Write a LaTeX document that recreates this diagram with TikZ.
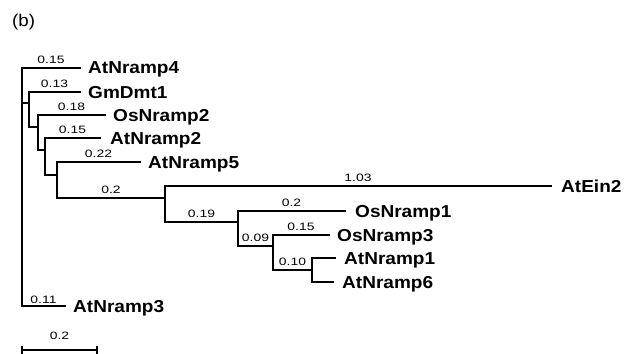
\documentclass[tikz,border=0pt]{standalone}
\usepackage{fontspec}
\setmainfont{Liberation Sans}
\newfontfamily\namefont{Liberation Sans}[FakeStretch=1.1]
\newfontfamily\numfont{Liberation Sans}[FakeStretch=1.3]
\begin{document}
\begin{tikzpicture}[x=1pt,y=-1pt,
  br/.style={line width=2.7pt,line cap=rect},
  thinbr/.style={line width=1.9pt,line cap=rect},
  leaf/.style={anchor=base west,inner sep=0pt,yshift=-6pt,font=\namefont\fontsize{17.3}{20}\selectfont\bfseries},
  blen/.style={anchor=south,inner sep=0pt,yshift=3.5pt,font=\numfont\fontsize{10.7}{12}\selectfont}]
\useasboundingbox (0,0) rectangle (631,353);
\node[anchor=base west,inner sep=0pt,font=\namefont\fontsize{17}{20}\selectfont] (title) at (12,27) {(b)};
% internal nodes (junction points)
\coordinate (root) at (22,103);
\coordinate (n1) at (29,103);
\coordinate (n2) at (38,127);
\coordinate (n3) at (45,150);
\coordinate (n4) at (57,175);
\coordinate (n5) at (165,198);
\coordinate (n6) at (238,222);
\coordinate (n7) at (273,246);
\coordinate (n8) at (312,270);
% leaf tips
\coordinate (t4) at (80,68);
\coordinate (tgm) at (80,92);
\coordinate (to2) at (105,115);
\coordinate (t2) at (100,138);
\coordinate (t5) at (140,162);
\coordinate (tein) at (551,186);
\coordinate (to1) at (345,211);
\coordinate (to3) at (329,235);
\coordinate (t1) at (335,258);
\coordinate (t6) at (333,282);
\coordinate (t3) at (65,306);
% leaf labels
\node[leaf,xshift=8pt] (l4) at (t4) {AtNramp4};
\node[leaf,xshift=8pt] (lgm) at (tgm) {GmDmt1};
\node[leaf,xshift=8pt] (lo2) at (to2) {OsNramp2};
\node[leaf,xshift=10pt] (l2) at (t2) {AtNramp2};
\node[leaf,xshift=8pt] (l5) at (t5) {AtNramp5};
\node[leaf,xshift=10pt] (lein) at (tein) {AtEin2};
\node[leaf,xshift=10pt] (lo1) at (to1) {OsNramp1};
\node[leaf,xshift=8pt] (lo3) at (to3) {OsNramp3};
\node[leaf,xshift=9pt] (l1) at (t1) {AtNramp1};
\node[leaf,xshift=9pt] (l6) at (t6) {AtNramp6};
\node[leaf,xshift=8pt] (l3) at (t3) {AtNramp3};
% branches
\draw[br] (root) |- (t4) node[blen,pos=0.75] {0.15};
\draw[br] (root) -- (n1);
\draw[br] (root) -- (root |- t3);
\draw[thinbr] (root |- t3) -- (t3) node[blen,midway,yshift=-2.5pt] {0.11};
\draw[br] (n1) |- (tgm) node[blen,pos=0.75] {0.13};
\draw[br] (n1) |- (n2);
\draw[br] (n2) |- (to2) node[blen,pos=0.75] {0.18};
\draw[br] (n2) |- (n3);
\draw[br] (n3) |- (t2) node[blen,pos=0.75] {0.15};
\draw[br] (n3) |- (n4);
\draw[br] (n4) |- (t5) node[blen,pos=0.75] {0.22};
\draw[br] (n4) |- (n5) node[blen,pos=0.75] {0.2};
\draw[br] (n5) -- (n5 |- tein);
\draw[thinbr] (n5 |- tein) -- (tein) node[blen,midway] {1.03};
\draw[br] (n5) |- (n6) node[blen,pos=0.75] {0.19};
\draw[br] (n6) |- (to1) node[blen,pos=0.75] {0.2};
\draw[br] (n6) |- (n7) node[blen,pos=0.75] {0.09};
\draw[br] (n7) -- (n7 |- to3);
\draw[thinbr] (n7 |- to3) -- (to3) node[blen,midway] {0.15};
\draw[br] (n7) |- (n8) node[blen,pos=0.75] {0.10};
\draw[br] (n8) |- (t1);
\draw[br] (n8) |- (t6);
% scale bar
\coordinate (sbL) at (22,350);
\coordinate (sbR) at (97,350);
\draw[line width=2.4pt] (sbL) -- (sbR) node[blen,midway,yshift=5.5pt] (sblab) {0.2};
\draw[line width=1.9pt] ([yshift=4pt]sbL) -- ([yshift=-4pt]sbL);
\draw[line width=1.9pt] ([yshift=4pt]sbR) -- ([yshift=-4pt]sbR);
\end{tikzpicture}
\end{document}
